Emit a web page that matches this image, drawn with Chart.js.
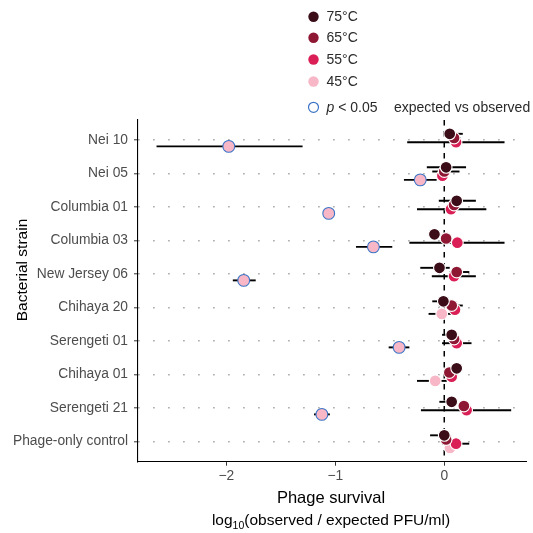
<!DOCTYPE html>
<html>
<head>
<meta charset="utf-8">
<script src="https://cdn.jsdelivr.net/npm/chart.js@4"></script>
<style>
  body { margin: 0; background: #fff; }
  canvas { display: block; }
</style>
</head>
<body>
<canvas id="myChart" width="533" height="533"></canvas>
<script>
// strains, top to bottom
var strains = ['Nei 10', 'Nei 05', 'Columbia 01', 'Columbia 03', 'New Jersey 06',
               'Chihaya 20', 'Serengeti 01', 'Chihaya 01', 'Serengeti 21', 'Phage-only control'];
var temps = ['75°C', '65°C', '55°C', '45°C'];
var xTicks = [-2, -1, 0];

// log10(observed / expected PFU/ml), with interval ends
var surv75 = [0.05, 0.017, 0.114, -0.09, -0.044, -0.008, 0.068, 0.114, 0.068, 0.0];
var lo75   = [-0.01, -0.16, -0.05, -0.14, -0.22, -0.11, -0.02, 0.05, -0.045, -0.13];
var hi75   = [0.17, 0.20, 0.29, -0.04, 0.05, 0.03, 0.12, 0.17, 0.10, 0.03];

var surv65 = [0.09, 0.0, 0.09, 0.017, 0.114, 0.068, 0.09, 0.047, 0.18, 0.017];
var lo65   = [0.03, -0.11, 0.03, -0.03, 0.05, -0.05, 0.04, 0.0, 0.13, -0.03];
var hi65   = [0.15, 0.14, 0.15, 0.06, 0.23, 0.17, 0.14, 0.09, 0.23, 0.06];

var surv55 = [0.108, -0.017, 0.062, 0.12, 0.09, 0.098, 0.114, 0.068, 0.205, 0.108];
var lo55   = [-0.34, -0.06, -0.25, -0.32, -0.114, 0.05, -0.02, 0.03, -0.214, -0.02];
var hi55   = [0.553, 0.03, 0.386, 0.553, 0.29, 0.15, 0.25, 0.11, 0.614, 0.229];

var surv45 = [-1.977, -0.22, -1.06, -0.65, -1.84, -0.023, -0.414, -0.083, -1.123, 0.053];
var lo45   = [-2.64, -0.37, -1.10, -0.81, -1.94, -0.144, -0.51, -0.25, -1.195, 0.0];
var hi45   = [-1.30, -0.07, -1.02, -0.477, -1.73, 0.08, -0.32, 0.023, -1.05, 0.1];
var sig45  = [true, true, true, true, true, false, true, false, true, false];

var survs = [surv75, surv65, surv55, surv45];
var los = [lo75, lo65, lo55, lo45];
var his = [hi75, hi65, hi55, hi45];
var sigs = [null, null, null, sig45];

var colors = ['#3b0d18', '#8e1733', '#d91f55', '#f8b7c7'];
var sigColor = '#3b74c6';
var dodge = [-0.1875, -0.0625, 0.0625, 0.1875];

var FONT = "'Liberation Sans', Arial, Helvetica, sans-serif";

function makeDataset(t) {
    var pts = survs[t].map(function (v, i) { return {x: v, y: i + 1 + dodge[t]}; });
    var borders = survs[t].map(function (v, i) {
        return sigs[t] && sigs[t][i] ? sigColor : '#ffffff';
    });
    return {
        label: temps[t],
        data: pts,
        backgroundColor: colors[t],
        pointBackgroundColor: colors[t],
        pointBorderColor: borders,
        pointBorderWidth: 1.1,
        pointRadius: 5.9,
        pointHoverRadius: 5.9
    };
}

// error bars, zero line, legend and axis titles
var overlay = {
    id: 'overlay',
    beforeDatasetsDraw: function (chart) {
        var ctx = chart.ctx, xs = chart.scales.x, ys = chart.scales.y, a = chart.chartArea;
        ctx.save();
        // dashed line at 0
        ctx.strokeStyle = '#000';
        ctx.lineWidth = 1.5;
        ctx.setLineDash([5.5, 5.5]);
        var x0 = xs.getPixelForValue(0);
        ctx.beginPath();
        ctx.moveTo(x0, a.top);
        ctx.lineTo(x0, a.bottom);
        ctx.stroke();
        ctx.setLineDash([]);
        // horizontal intervals
        ctx.lineWidth = 1.9;
        for (var t = 3; t >= 0; t--) {
            for (var i = 0; i < strains.length; i++) {
                var y = ys.getPixelForValue(i + 1 + dodge[t]);
                ctx.beginPath();
                ctx.moveTo(xs.getPixelForValue(los[t][i]), y);
                ctx.lineTo(xs.getPixelForValue(his[t][i]), y);
                ctx.stroke();
            }
        }
        ctx.restore();
    },
    afterDraw: function (chart) {
        var ctx = chart.ctx;
        ctx.save();
        // legend
        var legY = [16.7, 37.8, 59.5, 81.5];
        ctx.font = '14px ' + FONT;
        ctx.textBaseline = 'middle';
        ctx.textAlign = 'left';
        for (var t = 0; t < temps.length; t++) {
            ctx.fillStyle = colors[t];
            ctx.beginPath();
            ctx.arc(313.5, legY[t], 5.2, 0, Math.PI * 2);
            ctx.fill();
            ctx.fillStyle = '#2a2a2a';
            ctx.fillText(temps[t], 326.5, legY[t] + 0.5);
        }
        ctx.strokeStyle = sigColor;
        ctx.lineWidth = 1.2;
        ctx.beginPath();
        ctx.arc(313.5, 107.3, 5, 0, Math.PI * 2);
        ctx.stroke();
        ctx.fillStyle = '#2a2a2a';
        ctx.font = 'italic 14px ' + FONT;
        ctx.fillText('p', 326.5, 107.8);
        var w = ctx.measureText('p').width;
        ctx.font = '14px ' + FONT;
        ctx.fillText(' < 0.05', 326.5 + w, 107.8);
        ctx.fillText('expected vs observed', 394, 107.8);

        // axis titles
        ctx.fillStyle = '#000';
        ctx.textAlign = 'center';
        ctx.textBaseline = 'alphabetic';
        ctx.font = '16.5px ' + FONT;
        var cx = 331;
        ctx.fillText('Phage survival', cx, 503);

        // log10(...) with subscript
        var big = '15.5px ' + FONT, small = '10.5px ' + FONT;
        var parts = [['log', big, 0], ['10', small, 4], ['(observed / expected PFU/ml)', big, 0]];
        var total = 0;
        parts.forEach(function (p) { ctx.font = p[1]; total += ctx.measureText(p[0]).width; });
        var px = cx - total / 2;
        ctx.textAlign = 'left';
        parts.forEach(function (p) {
            ctx.font = p[1];
            ctx.fillText(p[0], px, 525 + p[2]);
            px += ctx.measureText(p[0]).width;
        });

        ctx.translate(23, 270);
        ctx.rotate(-Math.PI / 2);
        ctx.textAlign = 'center';
        ctx.textBaseline = 'middle';
        ctx.font = '15.5px ' + FONT;
        ctx.fillText('Bacterial strain', 0, 0);
        ctx.restore();
    }
};

var ctx = document.getElementById('myChart').getContext('2d');
Chart.defaults.font.family = FONT;

var myChart = new Chart(ctx, {
    type: 'scatter',
    data: {
        datasets: [0, 1, 2, 3].map(makeDataset)
    },
    options: {
        responsive: false,
        animation: false,
        layout: { padding: { top: 120, right: 1, left: 0, bottom: 0 } },
        plugins: {
            legend: { display: false },
            tooltip: { enabled: false }
        },
        scales: {
            x: {
                type: 'linear',
                min: -2.81,
                max: 0.75,
                afterBuildTicks: function (scale) {
                    scale.ticks = xTicks.map(function (v) { return {value: v}; });
                },
                afterFit: function (scale) {
                    scale.height = 71.3;
                    scale.paddingLeft = 0;
                    scale.paddingRight = 0;
                },
                ticks: {
                    color: '#4d4d4d',
                    font: { size: 13.8 },
                    padding: 2,
                    maxRotation: 0,
                    callback: function (v) { return v < 0 ? '\u2212' + Math.abs(v) : String(v); }
                },
                grid: {
                    drawOnChartArea: false,
                    drawTicks: true,
                    tickLength: 4,
                    tickColor: '#333',
                    tickWidth: 1
                },
                border: { display: true, color: '#000', width: 1.1 }
            },
            y: {
                type: 'linear',
                reverse: true,
                min: 0.4,
                max: 10.6,
                afterBuildTicks: function (scale) {
                    scale.ticks = strains.map(function (s, i) { return {value: i + 1}; });
                },
                afterFit: function (scale) {
                    scale.width = 138;
                },
                ticks: {
                    color: '#4d4d4d',
                    font: { size: 13.8 },
                    padding: 6,
                    callback: function (v) { return strains[Math.round(v) - 1]; }
                },
                grid: {
                    color: '#a8a8a8',
                    lineWidth: 1.6,
                    drawTicks: true,
                    tickLength: 4,
                    tickColor: '#333',
                    tickWidth: 1
                },
                border: { display: true, color: '#000', width: 1.1, dash: [1.6, 13.4], dashOffset: 0 }
            }
        }
    },
    plugins: [overlay]
});
</script>
</body>
</html>
